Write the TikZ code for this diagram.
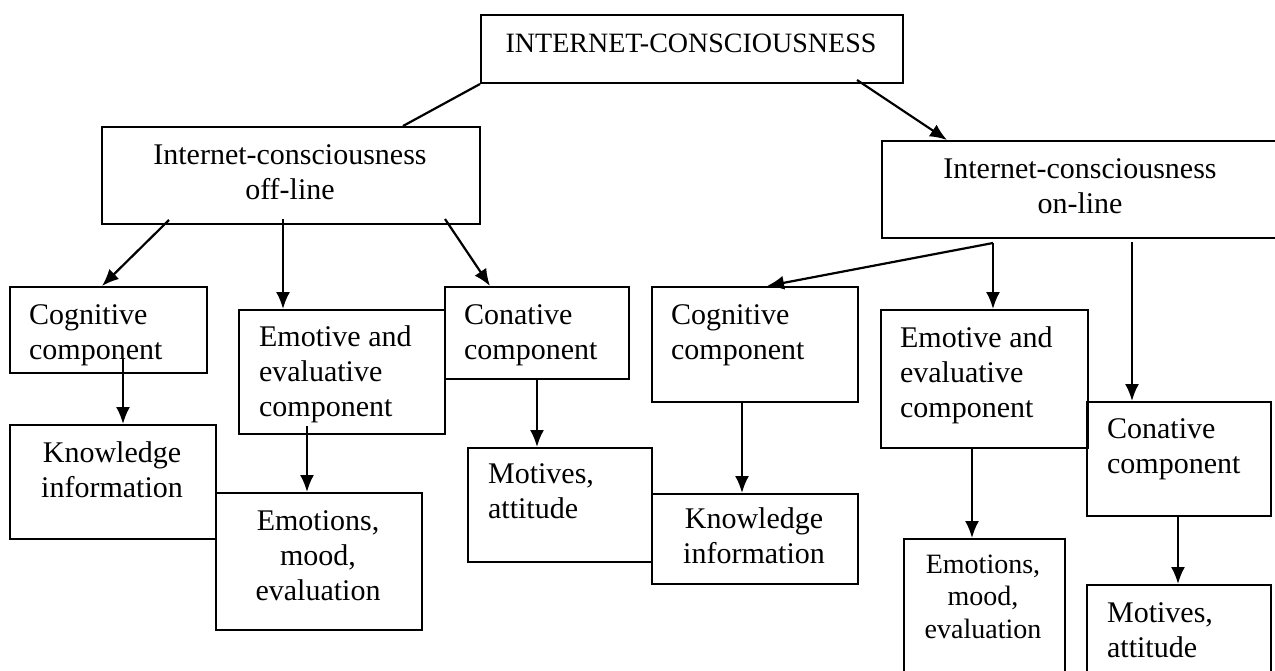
\documentclass[tikz,border=0pt]{standalone}
\usepackage{fontspec}
\setmainfont{Liberation Serif}
\usetikzlibrary{arrows.meta}
\tikzset{box/.style={draw, line width=2pt, inner sep=0pt, anchor=north west},
    txt/.style={inner sep=0pt, font=\fontsize{30}{35}\selectfont},
    small/.style={inner sep=0pt, font=\fontsize{28}{32.5}\selectfont}}

\begin{document}
\begin{tikzpicture}[x=1pt,y=-1pt,>={Latex[length=17pt,width=14pt]},line width=2.2pt]
    \clip (0,0) rectangle (1275,670);
    % boxes
    \node[box,minimum width=422pt,minimum height=68pt] (top) at (480,14) {};
    \node[box,minimum width=378pt,minimum height=97pt] (offl) at (101,126) {};
    \node[box,minimum width=409pt,minimum height=97pt] (onl) at (881,140) {};
    \node[box,minimum width=197pt,minimum height=86pt] (cogL) at (9,286) {};
    \node[box,minimum width=206pt,minimum height=124pt] (emoL) at (238,309) {};
    \node[box,minimum width=184pt,minimum height=92pt] (conL) at (444,286) {};
    \node[box,minimum width=206pt,minimum height=114pt] (knoL) at (9,424) {};
    \node[box,minimum width=206pt,minimum height=137pt] (emsL) at (215,492) {};
    \node[box,minimum width=184pt,minimum height=114pt] (motL) at (467,447) {};
    \node[box,minimum width=206pt,minimum height=115pt] (cogR) at (651,286) {};
    \node[box,minimum width=206pt,minimum height=90pt] (knoR) at (651,493) {};
    \node[box,minimum width=207pt,minimum height=138pt] (emoR) at (880,309) {};
    \node[box,minimum width=184pt,minimum height=114pt] (conR) at (1086,401) {};
    \node[box,minimum width=161pt,minimum height=152pt] (emsR) at (903,538) {};
    \node[box,minimum width=184pt,minimum height=106pt] (motR) at (1086,584) {};

    % texts (base = last line)
    \node[txt,font=\fontsize{28}{33}\selectfont,anchor=base] (topt) at (691,52) {INTERNET-CONSCIOUSNESS};
    \node[txt,align=center,anchor=base] (offlt) at (290,199) {Internet-consciousness\\off-line};
    \node[txt,align=center,anchor=base] (onlt) at (1080,213) {Internet-consciousness\\on-line};
    \node[txt,align=left,anchor=base west] (cogLt) at (28,359) {Cognitive\\component};
    \node[txt,align=left,anchor=base west] (emoLt) at (258,416) {Emotive and\\evaluative\\component};
    \node[txt,align=left,anchor=base west] (conLt) at (463,359) {Conative\\component};
    \node[txt,align=center,anchor=base] (knoLt) at (112,497) {Knowledge\\information};
    \node[txt,align=center,anchor=base] (emsLt) at (318,600) {Emotions,\\mood,\\evaluation};
    \node[txt,align=left,anchor=base west] (motLt) at (487,518) {Motives,\\attitude};
    \node[txt,align=left,anchor=base west] (cogRt) at (670,359) {Cognitive\\component};
    \node[txt,align=center,anchor=base] (knoRt) at (754,563) {Knowledge\\information};
    \node[txt,align=left,anchor=base west] (emoRt) at (899,417) {Emotive and\\evaluative\\component};
    \node[txt,align=left,anchor=base west] (conRt) at (1106,473) {Conative\\component};
    \node[small,align=center,anchor=base] (emsRt) at (983,638) {Emotions,\\mood,\\evaluation};
    \node[txt,align=left,anchor=base west] (motRt) at (1106,657) {Motives,\\attitude};

    % connectors
    \draw (top.south west) -- ([xshift=302pt]offl.north west);
    \draw[->] ([xshift=-47pt,yshift=4pt]top.south east) -- ([xshift=66pt]onl.north west);
    \draw[->] ([xshift=68pt,yshift=5pt]offl.south west) -- ([xshift=93pt]cogL.north west);
    \draw[->] ([xshift=182pt,yshift=6pt]offl.south west) -- ([xshift=45pt]emoL.north west);
    \draw[->] ([xshift=344pt,yshift=6pt]offl.south west) -- ([xshift=46pt]conL.north west);
    \draw[->] ([xshift=112pt,yshift=-4pt]onl.south west) -- ([xshift=116pt]cogR.north west);
    \draw[->] ([xshift=112pt,yshift=-4pt]onl.south west) -- ([xshift=113pt]emoR.north west);
    \draw[->] ([xshift=251pt,yshift=-3pt]onl.south west) -- ([xshift=46pt]conR.north west);
    \draw[->] ([xshift=114pt,yshift=15pt]cogL.south west) -- ([xshift=114pt]knoL.north west);
    \draw[->] ([xshift=69pt,yshift=9pt]emoL.south west) -- ([xshift=92pt]emsL.north west);
    \draw[->] ([xshift=93pt]conL.south west) -- ([xshift=70pt]motL.north west);
    \draw[->] ([xshift=91pt]cogR.south west) -- ([xshift=91pt]knoR.north west);
    \draw[->] ([xshift=92pt]emoR.south west) -- ([xshift=69pt]emsR.north west);
    \draw[->] ([xshift=92pt]conR.south west) -- ([xshift=92pt]motR.north west);
\end{tikzpicture}
\end{document}
